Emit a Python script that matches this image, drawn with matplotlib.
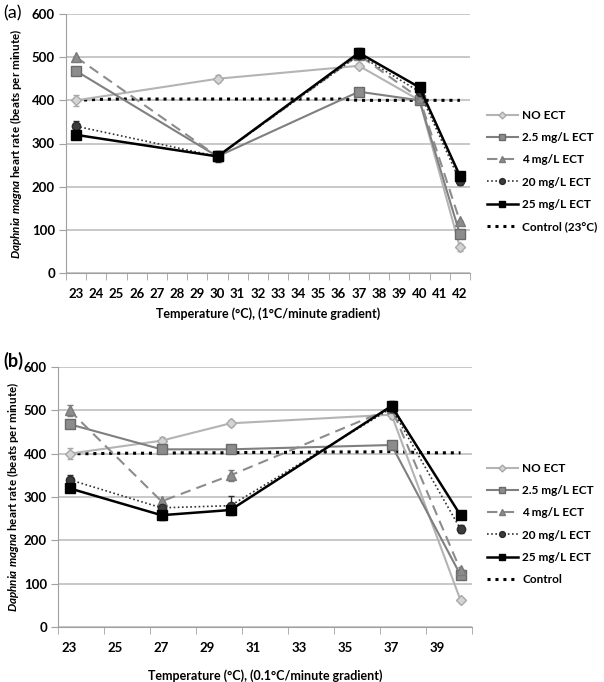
import numpy as np
import matplotlib.pyplot as plt
from matplotlib.ticker import FixedLocator, NullFormatter

plt.rcParams['font.family'] = ['Lato', 'DejaVu Sans']
plt.rcParams['mathtext.fontset'] = 'custom'
plt.rcParams['mathtext.it'] = 'Lato:italic:bold'
plt.rcParams['mathtext.rm'] = 'Lato:bold'

# ---- data, panel (a): 1°C/minute gradient ----
cats_a = list(range(23, 43))
temps_a = [23, 30, 37, 40, 42]
no_ect_a = [400, 450, 480, 400, 60]
no_ect_a_err = [12, 8, 6, 6, 8]
ect25_a_low = [468, 270, 420, 400, 90]      # 2.5 mg/L
ect25_a_low_err = [0, 0, 0, 0, 0]
ect4_a = [500, 270, 505, 405, 120]
ect4_a_err = [0, 0, 0, 0, 0]
ect20_a = [340, 270, 505, 420, 213]
ect20_a_err = [12, 0, 0, 0, 8]
ect25_a = [320, 270, 510, 430, 225]
ect25_a_err = [0, 12, 12, 0, 0]
control_a = [400, 402, 403, 403, 403, 403, 403, 403, 403, 403, 403, 403, 403, 403,
             400, 400, 400, 400, 400, 400]

# ---- data, panel (b): 0.1°C/minute gradient ----
cats_b = list(range(23, 41))
temps_b = [23, 27, 30, 37, 40]
no_ect_b = [400, 430, 470, 490, 62]
no_ect_b_err = [12, 8, 7, 10, 5]
ect25_b_low = [468, 410, 410, 420, 120]
ect25_b_low_err = [0, 0, 0, 0, 8]
ect4_b = [500, 290, 350, 505, 131]
ect4_b_err = [12, 0, 12, 0, 0]
ect20_b = [340, 275, 280, 505, 226]
ect20_b_err = [10, 0, 22, 0, 10]
ect25_b = [320, 258, 270, 510, 258]
ect25_b_err = [0, 12, 10, 12, 0]
control_b = [400, 400, 401, 401, 401, 402, 402, 402, 403, 403, 403, 404, 404, 404,
             405, 403, 402, 402]

labels_a = ['NO ECT', '2.5 mg/L ECT', '4 mg/L ECT', '20 mg/L ECT', '25 mg/L ECT',
            'Control (23°C)']
labels_b = ['NO ECT', '2.5 mg/L ECT', '4 mg/L ECT', '20 mg/L ECT', '25 mg/L ECT',
            'Control']

styles = [
    dict(color='#b4b4b4', ls='-', marker='D', mfc='#d4d4d4', mec='#a8a8a8', ms=5, lw=1.5),
    dict(color='#7f7f7f', ls='-', marker='s', mfc='#8c8c8c', mec='#6a6a6a', ms=7, lw=1.5),
    dict(color='#8c8c8c', ls=(0, (5, 3)), marker='^', mfc='#8c8c8c', mec='#7a7a7a', ms=7, lw=1.5),
    dict(color='#333333', ls=(0, (1, 1.5)), marker='o', mfc='#3c3c3c', mec='#2a2a2a', ms=6, lw=1.2),
    dict(color='#000000', ls='-', marker='s', mfc='#000000', mec='#000000', ms=7, lw=1.8),
]
control_style = dict(color='#000000', ls=(0, (1, 1.6)), lw=2.2)


def draw_panel(ax, cats, temps, series, errs, control, tick_step, xlabel, xpad, ylab_x):
    pos = [cats.index(t) for t in temps]
    handles = []
    for vals, err, st in zip(series, errs, styles):
        ax.errorbar(pos, vals, yerr=err, fmt='none', ecolor=st['mec'], elinewidth=1,
                    capsize=2.5, capthick=1, zorder=3)
        h, = ax.plot(pos, vals, zorder=4, **st)
        handles.append(h)
    hc, = ax.plot(range(len(cats)), control, zorder=2, **control_style)
    handles.append(hc)

    ax.set_xlim(-0.5, len(cats) - 0.5)
    ax.set_ylim(0, 600)
    ax.set_yticks(range(0, 601, 100))
    ax.yaxis.grid(True, color='#bfbfbf', lw=1.2)
    ax.set_axisbelow(True)
    for s in ['top', 'right']:
        ax.spines[s].set_visible(False)
    ax.spines['left'].set_color('#a0a0a0')
    ax.spines['bottom'].set_color('#a0a0a0')

    ax.set_xticks(range(0, len(cats), tick_step))
    ax.set_xticklabels([str(c) for c in cats[::tick_step]])
    ax.xaxis.set_minor_locator(FixedLocator(np.arange(-0.5, len(cats), tick_step)))
    ax.xaxis.set_minor_formatter(NullFormatter())
    ax.tick_params(axis='x', which='major', length=0, pad=11, labelsize=9.5)
    ax.tick_params(axis='x', which='minor', length=5, color='#a0a0a0', direction='out')
    ax.tick_params(axis='y', length=5, color='#a0a0a0', labelsize=9.5, pad=3)
    for t in ax.get_xticklabels() + ax.get_yticklabels():
        t.set_fontweight('bold')

    ax.set_xlabel(xlabel, fontsize=9, fontweight='bold', labelpad=xpad)
    ax.set_ylabel(r'$Daphnia\ magna$ heart rate (beats per minute)', fontsize=8.4,
                  fontweight='bold', va='center')
    ax.yaxis.set_label_coords(ylab_x, 0.5)
    return handles


fig = plt.figure(figsize=(6.04, 6.82), dpi=100)
ax_a = fig.add_axes([66 / 604, 1 - 273 / 682, 404 / 604, 259 / 682])
ax_b = fig.add_axes([58 / 604, 1 - 627 / 682, 414 / 604, 260 / 682])

h_a = draw_panel(ax_a, cats_a, temps_a,
                 [no_ect_a, ect25_a_low, ect4_a, ect20_a, ect25_a],
                 [no_ect_a_err, ect25_a_low_err, ect4_a_err, ect20_a_err, ect25_a_err],
                 control_a, 1, 'Temperature (°C), (1°C/minute gradient)', 5,
                 (16 - 66) / 404)
h_b = draw_panel(ax_b, cats_b, temps_b,
                 [no_ect_b, ect25_b_low, ect4_b, ect20_b, ect25_b],
                 [no_ect_b_err, ect25_b_low_err, ect4_b_err, ect20_b_err, ect25_b_err],
                 control_b, 2, 'Temperature (°C), (0.1°C/minute gradient)', 11,
                 (13 - 58) / 414)

fig.text(3 / 604, 1 - 13 / 682, '(a)', fontsize=13, ha='left', va='center')
fig.text(3 / 604, 1 - 361 / 682, '(b)', fontsize=13, ha='left', va='center',
         fontweight='bold')

for handles, labels, yc in [(h_a, labels_a, 171), (h_b, labels_b, 524)]:
    leg = fig.legend(handles, labels, loc='center left',
                     bbox_to_anchor=(487 / 604, 1 - yc / 682), frameon=False,
                     fontsize=8.5, handlelength=2.6, handletextpad=0.4, labelspacing=0.95,
                     markerscale=0.7, borderaxespad=0, borderpad=0)
    for t in leg.get_texts():
        t.set_fontweight('bold')

fig.savefig('out.png', dpi=100)
